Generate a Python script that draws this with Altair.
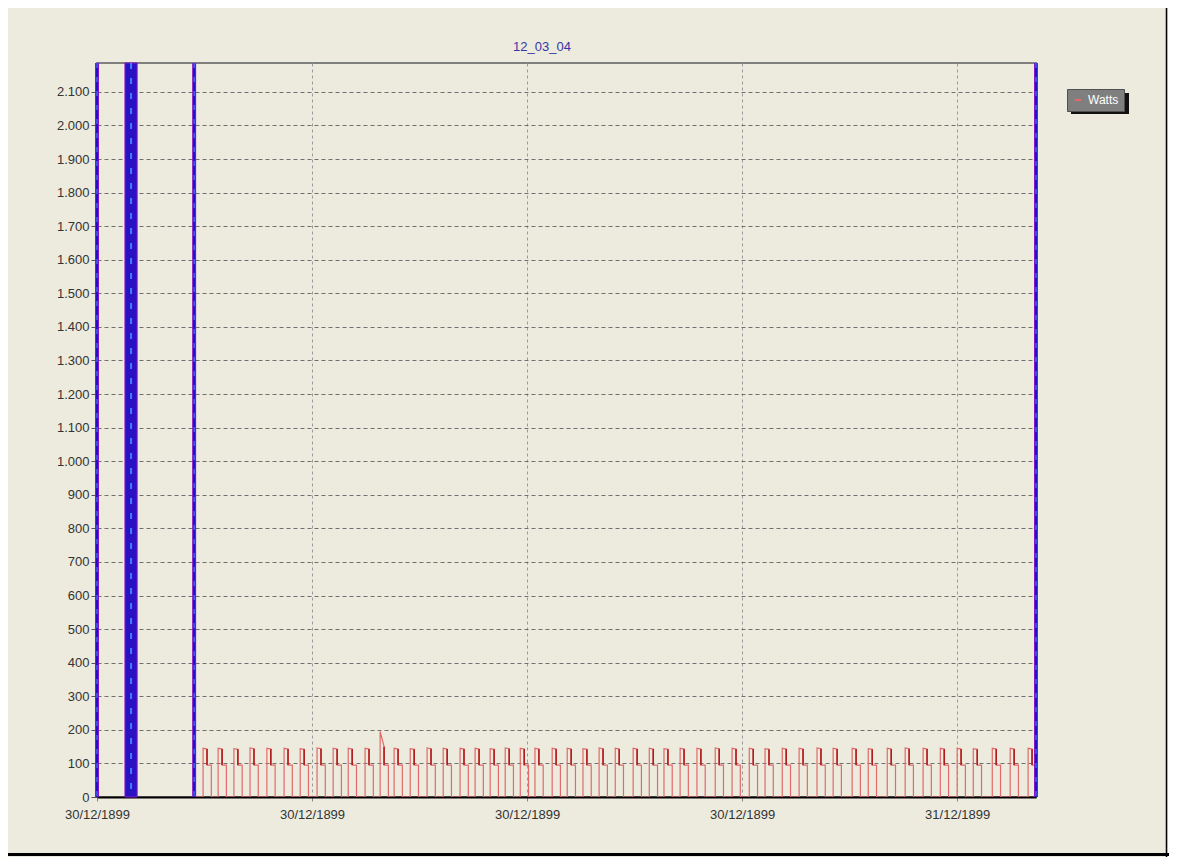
import json
import altair as alt
import pandas as pd

# ---------------- data ----------------
title_text = "12_03_04"
series_name = "Watts"

x_tick_hours = [0, 6, 12, 18, 24]
x_tick_labels = ["30/12/1899", "30/12/1899", "30/12/1899", "30/12/1899", "31/12/1899"]
y_ticks = [0, 100, 200, 300, 400, 500, 600, 700, 800, 900, 1000, 1100,
           1200, 1300, 1400, 1500, 1600, 1700, 1800, 1900, 2000, 2100]
x_max = 26.2
y_max = 2186

# red "Watts" series: one entry per pulse (hours from 30/12/1899 00:00)
series_start = 2.71
pulse_rise = [2.96, 3.38, 3.82, 4.27, 4.74, 5.22, 5.67, 6.14, 6.59, 7.01,
              7.48, 7.90, 8.29, 8.74, 9.21, 9.66, 10.13, 10.55, 10.97, 11.39,
              11.81, 12.22, 12.70, 13.12, 13.56, 14.01, 14.46, 14.96, 15.41, 15.82,
              16.27, 16.74, 17.25, 17.72, 18.20, 18.64, 19.12, 19.59, 20.09, 20.54,
              21.07, 21.52, 22.05, 22.55, 23.05, 23.53, 24.00, 24.45, 24.98, 25.48,
              25.98]
pulse_top_end = [3.07, 3.49, 3.93, 4.38, 4.85, 5.33, 5.78, 6.25, 6.70, 7.12,
                 7.59, 8.01, 8.40, 8.85, 9.32, 9.77, 10.24, 10.66, 11.08, 11.50,
                 11.92, 12.33, 12.81, 13.23, 13.67, 14.12, 14.57, 15.07, 15.52, 15.93,
                 16.38, 16.85, 17.36, 17.83, 18.31, 18.75, 19.23, 19.70, 20.20, 20.65,
                 21.18, 21.63, 22.16, 22.66, 23.16, 23.64, 24.11, 24.56, 25.09, 25.59,
                 26.09]
pulse_fall = [3.19, 3.61, 4.05, 4.50, 4.97, 5.45, 5.90, 6.37, 6.82, 7.24,
              7.71, 8.13, 8.52, 8.97, 9.44, 9.89, 10.36, 10.78, 11.20, 11.62,
              12.04, 12.45, 12.93, 13.35, 13.79, 14.24, 14.69, 15.19, 15.64, 16.05,
              16.50, 16.97, 17.48, 17.95, 18.43, 18.87, 19.35, 19.82, 20.32, 20.77,
              21.30, 21.75, 22.28, 22.78, 23.28, 23.76, 24.23, 24.68, 25.21, 25.71,
              26.21]
pulse_peak = [145, 145, 144, 146, 145, 145, 144, 146, 145, 145,
              145, 195, 145, 144, 146, 145, 145, 145, 144, 146,
              145, 145, 145, 145, 144, 146, 145, 145, 145, 144,
              145, 145, 146, 145, 145, 144, 145, 145, 146, 145,
              145, 144, 145, 146, 145, 145, 145, 144, 145, 145,
              145]
pulse_top = [143, 143, 142, 144, 143, 143, 142, 144, 143, 143,
             143, 150, 143, 142, 144, 143, 143, 143, 142, 144,
             143, 143, 143, 143, 142, 144, 143, 143, 143, 142,
             143, 143, 144, 143, 143, 142, 143, 143, 144, 143,
             143, 142, 143, 144, 143, 143, 143, 142, 143, 143,
             143]
pulse_step = [95, 95, 95, 95, 95, 95, 95, 95, 95, 95,
              95, 95, 95, 95, 95, 95, 95, 95, 95, 95,
              95, 95, 95, 95, 95, 95, 95, 95, 95, 95,
              95, 95, 95, 95, 95, 95, 95, 95, 95, 95,
              95, 95, 95, 95, 95, 95, 95, 95, 95, 95,
              95]

# blue vertical markers (hours)
blue_line_hours = [0.0, 2.71, 26.2]
blue_band_start = [0.78]
blue_band_end = [1.12]
blue_band_center = [0.95]

# ---------------- tables ----------------
rows = [{"t": series_start, "w": 0}]
for r, te, f, p, tp, s in zip(pulse_rise, pulse_top_end, pulse_fall,
                              pulse_peak, pulse_top, pulse_step):
    rows += [{"t": r, "w": 0}, {"t": r, "w": p}, {"t": te, "w": tp},
             {"t": te, "w": s}, {"t": f, "w": s}, {"t": f, "w": 0}]
for i, row in enumerate(rows):
    row["o"] = i
    row["series"] = series_name
line_df = pd.DataFrame(rows)

drop_df = pd.DataFrame({"t": pulse_top_end, "top": pulse_top, "step": pulse_step})
blue_df = pd.DataFrame({"t": blue_line_hours})
band_df = pd.DataFrame({"a": blue_band_start, "b": blue_band_end, "c": blue_band_center})

FONT = "Liberation Sans"
BG = "#ECEBDE"

xscale = alt.Scale(domain=[0, x_max], nice=False, zero=False)
yscale = alt.Scale(domain=[0, y_max], nice=False)

x_label_expr = "%s[indexof(%s, datum.value)]" % (json.dumps(x_tick_labels), json.dumps(x_tick_hours))
y_label_expr = "replace(format(datum.value, ','), ',', '.')"

xaxis = alt.Axis(values=x_tick_hours, labelExpr=x_label_expr, title=None,
                 labelFont=FONT, labelFontSize=13, labelColor="#333333",
                 labelPadding=7, tickSize=4, tickColor="#888888",
                 grid=True, gridColor="#9a9a9a", gridDash=[3, 3], gridWidth=1,
                 domainColor="#000000", domainWidth=2, labelFlush=False,
                 labelOverlap=False)
yaxis = alt.Axis(values=y_ticks, labelExpr=y_label_expr, title=None,
                 labelFont=FONT, labelFontSize=13, labelColor="#333333",
                 labelPadding=2, tickSize=6, tickColor="#555555",
                 grid=True, gridColor="#707070", gridDash=[4, 3], gridWidth=1,
                 domain=False, labelOverlap=False)

one = alt.Data(values=[{}])

# frame decoration (outside the plot)
white_strip = alt.Chart(one).mark_rect(color="white").encode(
    x=alt.value(1071), x2=alt.value(1080), y=alt.value(-60), y2=alt.value(800))
right_frame = alt.Chart(one).mark_rule(color="#000000", strokeWidth=1.5).encode(
    x=alt.value(1069.5), y=alt.value(-60), y2=alt.value(794))
bottom_frame = alt.Chart(one).mark_rect(color="#000000").encode(
    x=alt.value(-95), x2=alt.value(1072), y=alt.value(790), y2=alt.value(793))

title_mark = alt.Chart(one).mark_text(
    text=title_text, color="#3535a5", font=FONT, fontSize=13,
    align="center", baseline="alphabetic").encode(
    x=alt.value(445), y=alt.value(-12))

red_line = alt.Chart(line_df).mark_line(strokeWidth=1.2, clip=True, interpolate="linear").encode(
    x=alt.X("t:Q", scale=xscale, axis=xaxis),
    y=alt.Y("w:Q", scale=yscale, axis=yaxis),
    order="o:Q",
    color=alt.Color("series:N",
                    scale=alt.Scale(domain=[series_name], range=["#e26a6a"]),
                    legend=alt.Legend(orient="none", legendX=970, legendY=26, title=None,
                                      fillColor="#7f7f7f", strokeColor="#505050",
                                      padding=5, labelColor="#ffffff", labelFont=FONT,
                                      labelFontSize=12, labelOffset=4,
                                      symbolType="stroke", symbolStrokeWidth=2,
                                      symbolSize=40, symbolStrokeColor="#e01010")),
)

dark_drops = alt.Chart(drop_df).mark_rule(color="#b01c1c", strokeWidth=1.6, clip=True).encode(
    x=alt.X("t:Q", scale=xscale, axis=xaxis),
    y=alt.Y("top:Q", scale=yscale, axis=yaxis),
    y2="step:Q")

band = alt.Chart(band_df).mark_rect(color="#2a12c4", stroke="#8a14c8", strokeWidth=1).encode(
    x=alt.X("a:Q", scale=xscale, axis=xaxis), x2="b:Q")
band_center = alt.Chart(band_df).mark_rule(color="#3d7cff", strokeWidth=2, strokeDash=[6, 9]).encode(
    x=alt.X("c:Q", scale=xscale, axis=xaxis))

blue_outer = alt.Chart(blue_df).mark_rule(color="#8216c8", strokeWidth=4).encode(
    x=alt.X("t:Q", scale=xscale, axis=xaxis))
blue_inner = alt.Chart(blue_df).mark_rule(color="#2010c8", strokeWidth=2).encode(
    x=alt.X("t:Q", scale=xscale, axis=xaxis))
blue_dash = alt.Chart(blue_df).mark_rule(color="#4a8cff", strokeWidth=1, strokeDash=[5, 9]).encode(
    x=alt.X("t:Q", scale=xscale, axis=xaxis))

legend_shadow = alt.Chart(one).mark_rect(color="#111111").encode(
    x=alt.value(974), x2=alt.value(1032), y=alt.value(30), y2=alt.value(51))

chart = alt.layer(
    white_strip, right_frame, bottom_frame, title_mark,
    red_line, dark_drops, band, band_center, blue_outer, blue_inner, blue_dash,
    legend_shadow,
).properties(
    width=939, height=734,
    autosize=alt.AutoSizeParams(type="none"),
    padding={"left": 89, "top": 55, "right": 136, "bottom": 60},
    background=BG,
).configure_view(
    stroke="#7f7f7f", strokeWidth=2
)

chart.save("out.html", embed_options={"renderer": "svg", "actions": False})
